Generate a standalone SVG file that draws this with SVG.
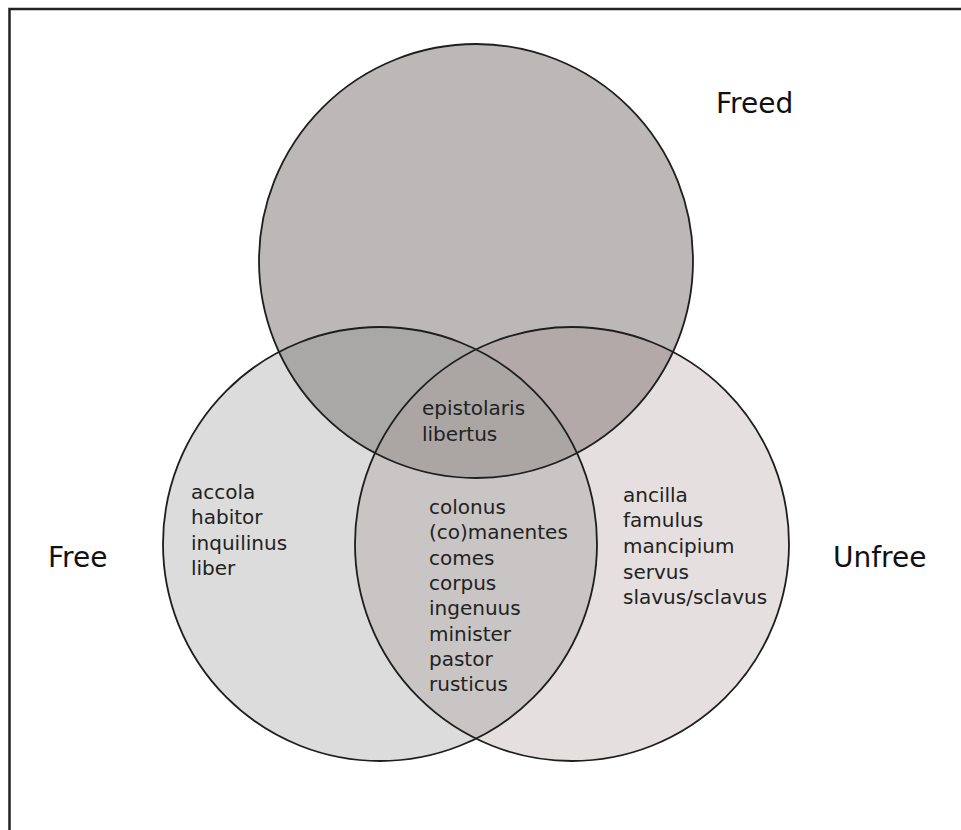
<svg xmlns="http://www.w3.org/2000/svg" width="961" height="830" viewBox="0 0 961 830">
  <style>
    .lbl { font-family: "DejaVu Sans", Verdana, sans-serif; font-size: 28px; fill: #111; }
    .term { font-family: "DejaVu Sans", Verdana, sans-serif; font-size: 20px; fill: #222; }
    .ring { fill: none; stroke: #1e1e1e; stroke-width: 1.8; }
  </style>
  <defs>
    <clipPath id="cTop"><circle cx="476" cy="261" r="217"/></clipPath>
    <clipPath id="cLeft"><circle cx="380" cy="544" r="217"/></clipPath>
    <clipPath id="cRight"><circle cx="572" cy="544" r="217"/></clipPath>
  </defs>
  <rect x="0" y="0" width="961" height="830" fill="#ffffff"/>
  <rect x="9.5" y="9" width="1100" height="1000" fill="none" stroke="#222" stroke-width="2.5"/>

  <g id="freed">
    <circle cx="476" cy="261" r="217" fill="#bcb8b7"/>
  </g>
  <g id="free">
    <circle cx="380" cy="544" r="217" fill="#dcdcdc"/>
  </g>
  <g id="unfree">
    <circle cx="572" cy="544" r="217" fill="#e5dfdf"/>
  </g>
  <g id="free-freed">
    <circle cx="380" cy="544" r="217" fill="#aaa8a7" clip-path="url(#cTop)"/>
  </g>
  <g id="unfree-freed">
    <circle cx="572" cy="544" r="217" fill="#b3a9a9" clip-path="url(#cTop)"/>
  </g>
  <g id="free-unfree">
    <circle cx="572" cy="544" r="217" fill="#c9c5c4" clip-path="url(#cLeft)"/>
  </g>
  <g id="all-three" clip-path="url(#cTop)">
    <circle cx="572" cy="544" r="217" fill="#aba5a4" clip-path="url(#cLeft)"/>
  </g>
  <g id="outlines">
    <circle class="ring" cx="476" cy="261" r="217"/>
    <circle class="ring" cx="380" cy="544" r="217"/>
    <circle class="ring" cx="572" cy="544" r="217"/>
  </g>

  <g id="labels">
    <text class="lbl" x="716" y="113">Freed</text>
    <text class="lbl" x="48" y="567">Free</text>
    <text class="lbl" x="833" y="567">Unfree</text>
  </g>

  <g id="terms-triple">
    <text class="term" x="422" y="415">epistolaris</text>
    <text class="term" x="422" y="441">libertus</text>
  </g>
  <g id="terms-free">
    <text class="term" x="191" y="499">accola</text>
    <text class="term" x="191" y="524">habitor</text>
    <text class="term" x="191" y="550">inquilinus</text>
    <text class="term" x="191" y="575">liber</text>
  </g>
  <g id="terms-free-unfree">
    <text class="term" x="429" y="514">colonus</text>
    <text class="term" x="429" y="539">(co)manentes</text>
    <text class="term" x="429" y="565">comes</text>
    <text class="term" x="429" y="590">corpus</text>
    <text class="term" x="429" y="615">ingenuus</text>
    <text class="term" x="429" y="641">minister</text>
    <text class="term" x="429" y="666">pastor</text>
    <text class="term" x="429" y="691">rusticus</text>
  </g>
  <g id="terms-unfree">
    <text class="term" x="623" y="502">ancilla</text>
    <text class="term" x="623" y="527">famulus</text>
    <text class="term" x="623" y="553">mancipium</text>
    <text class="term" x="623" y="579">servus</text>
    <text class="term" x="623" y="604">slavus/sclavus</text>
  </g>
</svg>
